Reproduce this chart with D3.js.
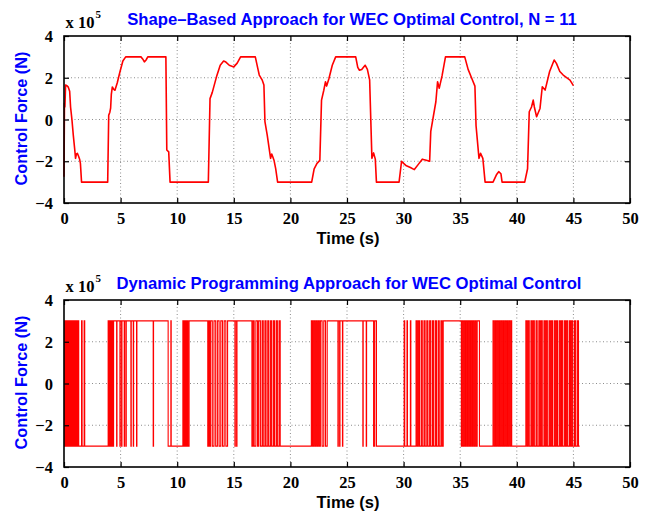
<!DOCTYPE html>
<html>
<head>
<meta charset="utf-8">
<script src="https://cdn.jsdelivr.net/npm/d3@7"></script>
<style>
  html, body { margin: 0; padding: 0; background: #fff; }
  svg { display: block; }
</style>
</head>
<body>
<svg id="chart" width="649" height="514"></svg>
<script>
// ---------- DATA (force in units of 10^5 N) ----------
const xTicks = [0, 5, 10, 15, 20, 25, 30, 35, 40, 45, 50];
const yTicks = [-4, -2, 0, 2, 4];
const topTitle = "Shape\u2013Based Approach for WEC Optimal Control, N = 11";
const bottomTitle = "Dynamic Programming Approach for WEC Optimal Control";
const xLabel = "Time (s)";
const yLabel = "Control Force (N)";

// Shape-based control force (time s, force x1e5 N)
const shapeTime = [0.00,0.04,0.08,0.14,0.25,0.38,0.50,0.58,0.70,0.82,0.95,1.02,1.10,1.18,1.28,1.38,1.45,1.55,
  3.86,3.95,4.05,4.12,4.18,4.27,4.38,4.50,4.70,4.95,5.20,5.45,6.80,6.95,7.10,7.25,7.40,9.00,9.08,9.25,9.37,
  12.75,12.90,13.10,13.50,13.80,14.10,14.30,14.60,15.00,15.30,15.60,16.90,17.10,17.25,17.50,17.66,17.75,17.95,
  18.25,18.35,18.45,18.55,18.70,18.87,21.88,22.10,22.35,22.60,22.75,22.95,23.10,23.20,23.40,23.70,24.00,
  25.77,25.95,26.10,26.30,26.60,26.80,27.00,27.20,27.35,27.50,27.60,29.60,29.82,30.00,30.20,30.60,30.95,
  31.30,31.65,32.00,32.30,32.40,32.85,33.00,33.15,33.40,33.70,35.40,35.70,36.00,36.30,36.40,36.66,36.80,
  37.00,37.20,37.90,38.20,38.40,38.60,38.70,40.70,40.95,41.10,41.30,41.45,41.55,41.75,42.05,42.25,42.50,
  42.90,43.30,43.50,43.80,44.10,44.70,45.00];
const shapeForce = [-2.74,0.78,0.60,1.65,1.62,1.55,1.35,0.60,0.00,-0.75,-1.45,-1.86,-1.65,-1.62,-1.75,-1.90,-2.10,-3.00,
  -3.00,0.20,0.35,0.55,1.20,1.56,1.45,1.40,1.75,2.30,2.80,3.00,3.00,2.90,2.76,2.85,3.00,3.00,-1.46,-1.55,-3.00,
  -3.00,1.00,1.30,2.10,2.60,2.80,2.75,2.60,2.52,2.70,3.00,3.00,2.50,2.13,1.90,1.65,-0.10,-0.74,
  -1.86,-1.65,-1.80,-1.95,-2.35,-3.00,-3.00,-2.36,-2.10,-1.96,0.93,1.40,1.81,1.60,1.95,2.60,3.00,
  3.00,2.50,2.36,2.40,2.60,2.40,1.90,-1.86,-1.60,-1.90,-3.00,-3.00,-2.00,-2.10,-2.20,-2.30,-2.40,
  -2.15,-1.90,-1.95,-2.00,-0.57,0.85,1.81,1.50,2.10,3.00,3.00,2.40,2.00,1.60,-0.30,-1.86,-1.62,
  -1.86,-3.00,-3.00,-2.65,-2.50,-2.60,-3.00,-3.00,-2.36,0.37,0.60,0.93,0.60,0.13,0.53,1.57,1.41,
  2.30,2.85,2.69,2.30,2.13,1.89,1.62];

// Dynamic programming (bang-bang) control: starts at low level, toggles at each switch time
const dpLow = -3, dpHigh = 3, dpEndTime = 45.55;
const dpSwitchTimes = [
  0.05,0.12,0.18,0.24,0.30,0.37,0.43,0.50,0.55,0.62,0.68,0.75,0.80,0.88,0.95,1.02,1.10,1.18,1.25,1.30,1.55,1.60,1.78,1.83,
  3.90,3.95,4.00,4.06,4.12,4.18,4.24,4.30,4.38,
  4.65,4.68,4.94,4.97,5.09,5.12,5.32,5.35,5.47,5.50,5.91,5.94,6.12,6.15,6.41,6.44,7.88,7.91,
  9.20,9.44,9.47,
  10.50,10.55,10.62,10.68,10.75,10.82,10.90,10.95,11.05,
  12.70,12.78,12.85,12.95,13.10,13.25,13.40,13.55,13.70,13.85,14.00,14.15,14.30,14.45,
  15.10,15.13,15.25,15.28,
  16.60,16.70,16.80,16.95,17.10,17.20,17.35,17.50,17.60,17.75,17.85,18.00,18.10,18.25,18.35,18.50,18.60,18.75,18.85,19.00,19.10,
  21.85,21.95,22.05,22.15,22.25,22.35,22.45,22.55,22.65,22.80,22.95,23.10,23.25,
  24.20,24.23,24.35,24.38,24.60,24.63,26.40,26.43,26.70,26.73,
  27.35,27.45,27.60,
  30.05,30.10,30.30,30.34,30.60,30.64,
  31.10,31.20,31.30,31.40,31.55,31.65,31.80,31.90,32.05,32.15,32.30,32.40,32.55,32.65,32.80,32.90,33.05,33.15,33.30,33.40,33.50,
  35.10,35.15,35.25,35.35,35.45,35.50,35.60,35.65,35.75,35.80,35.90,35.95,36.05,36.10,36.20,36.30,36.40,36.50,36.70,
  37.90,38.00,38.10,38.15,38.25,38.35,38.45,38.50,38.60,38.70,38.80,38.85,38.95,39.05,39.15,39.20,39.30,39.40,39.50,39.55,
  40.80,40.90,41.00,41.10,41.25,41.35,41.45,41.55,41.70,41.80,41.95,42.05,42.15,42.25,42.40,42.50,42.60,42.70,42.85,42.95,
  43.05,43.15,43.30,43.40,43.50,43.60,43.75,43.85,43.95,44.05,44.20,44.30,44.40,44.50,44.65,44.75,44.85,44.95,45.10,45.20,45.35,45.45
];

// ---------- LAYOUT ----------
const svg = d3.select("#chart");
const left = 64, right = 630;
const panels = [
  { top: 36, bottom: 203, title: topTitle },
  { top: 300, bottom: 467, title: bottomTitle }
];
const sansBold = "'Liberation Sans', Arial, Helvetica, sans-serif";
const serifBold = "'Liberation Serif', 'Times New Roman', serif";

function fitFont(textSel, target) {
  const node = textSel.node();
  const fs = parseFloat(textSel.attr("font-size"));
  const w = node.getComputedTextLength();
  const nfs = fs * target / w;
  textSel.attr("font-size", nfs.toFixed(2));
  return nfs;
}

const x = d3.scaleLinear().domain([0, 50]).range([left, right]);

let titleFs = null;

panels.forEach((p, i) => {
  const y = d3.scaleLinear().domain([-4, 4]).range([p.bottom, p.top]);
  const g = svg.append("g");

  // grid
  const grid = g.append("g").attr("stroke", "#8c8c8c").attr("stroke-width", 1)
    .attr("stroke-dasharray", "1,2.5").attr("fill", "none");
  xTicks.slice(1, -1).forEach(t => {
    grid.append("line").attr("x1", x(t)).attr("x2", x(t))
      .attr("y1", p.top).attr("y2", p.bottom);
  });
  yTicks.slice(1, -1).forEach(v => {
    grid.append("line").attr("x1", left).attr("x2", right)
      .attr("y1", y(v)).attr("y2", y(v));
  });

  // data
  if (i === 0) {
    const pts = shapeTime.map((t, k) => [t, shapeForce[k]]);
    g.append("path")
      .attr("d", d3.line().x(d => x(d[0])).y(d => y(d[1]))(pts))
      .attr("fill", "none").attr("stroke", "#ff0000").attr("stroke-width", 1.6)
      .attr("stroke-linejoin", "round");
  } else {
    const pts = [[0, dpLow]];
    let lev = dpLow;
    dpSwitchTimes.forEach(t => {
      lev = (lev === dpLow) ? dpHigh : dpLow;
      pts.push([t, lev]);
    });
    pts.push([dpEndTime, lev]);
    g.append("path")
      .attr("d", d3.line().curve(d3.curveStepAfter).x(d => x(d[0])).y(d => y(d[1]))(pts))
      .attr("fill", "none").attr("stroke", "#ff0000").attr("stroke-width", 1.1);
  }

  // axes (MATLAB style: inward ticks, box)
  const tickLen = 5;
  const axB = g.append("g").attr("transform", `translate(0,${p.bottom})`)
    .call(d3.axisBottom(x).tickValues(xTicks).tickSizeInner(-tickLen).tickSizeOuter(0).tickPadding(9)
      .tickFormat(d3.format("d")));
  const axT = g.append("g").attr("transform", `translate(0,${p.top})`)
    .call(d3.axisTop(x).tickValues(xTicks).tickSizeInner(-tickLen).tickSizeOuter(0).tickFormat(""));
  const axL = g.append("g").attr("transform", `translate(${left},0)`)
    .call(d3.axisLeft(y).tickValues(yTicks).tickSizeInner(-tickLen).tickSizeOuter(0).tickPadding(11)
      .tickFormat(d => d < 0 ? "\u2212" + Math.abs(d) : String(d)));
  const axR = g.append("g").attr("transform", `translate(${right},0)`)
    .call(d3.axisRight(y).tickValues(yTicks).tickSizeInner(-tickLen).tickSizeOuter(0).tickFormat(""));
  [axB, axT, axL, axR].forEach(a => {
    a.select(".domain").remove();
    a.selectAll("line").attr("stroke", "#000").attr("stroke-width", 1.2);
    a.selectAll("text").attr("fill", "#000").attr("font-family", serifBold)
      .attr("font-weight", "bold").attr("font-size", 16.5);
  });
  axB.selectAll("text").attr("dy", "0.71em");
  axL.selectAll("text").attr("dy", "0.34em");

  g.append("rect").attr("x", left).attr("y", p.top)
    .attr("width", right - left).attr("height", p.bottom - p.top)
    .attr("fill", "none").attr("stroke", "#000").attr("stroke-width", 1.6);

  // x 10^5
  const ex = g.append("text").attr("x", 65.5).attr("y", p.top - 7.7)
    .attr("font-family", serifBold).attr("font-weight", "bold").attr("font-size", 16.5).attr("fill", "#000");
  ex.append("tspan").text("x 10");
  ex.append("tspan").attr("font-size", 11).attr("dy", -10).attr("dx", 1).text("5");

  // title
  const tt = g.append("text").attr("x", 352).attr("y", p.top - 11)
    .attr("text-anchor", "middle").attr("font-family", sansBold).attr("font-weight", "bold")
    .attr("font-size", 16).attr("fill", "#0000ff").text(p.title);
  if (i === 0) titleFs = fitFont(tt, 450);
  else tt.attr("font-size", titleFs.toFixed(2)).attr("x", 349);

  // x label
  const xl = g.append("text").attr("x", 348).attr("y", p.bottom + 40.5)
    .attr("text-anchor", "middle").attr("font-family", sansBold).attr("font-weight", "bold")
    .attr("font-size", 16).attr("fill", "#000").text(xLabel);
  fitFont(xl, 63);

  // y label
  const yc = (p.top + p.bottom) / 2 - 1;
  const yl = g.append("text").attr("transform", `translate(26.5,${yc}) rotate(-90)`)
    .attr("text-anchor", "middle").attr("font-family", sansBold).attr("font-weight", "bold")
    .attr("font-size", 16).attr("fill", "#0000ff").text(yLabel);
  fitFont(yl, 134);
});
</script>
</body>
</html>
